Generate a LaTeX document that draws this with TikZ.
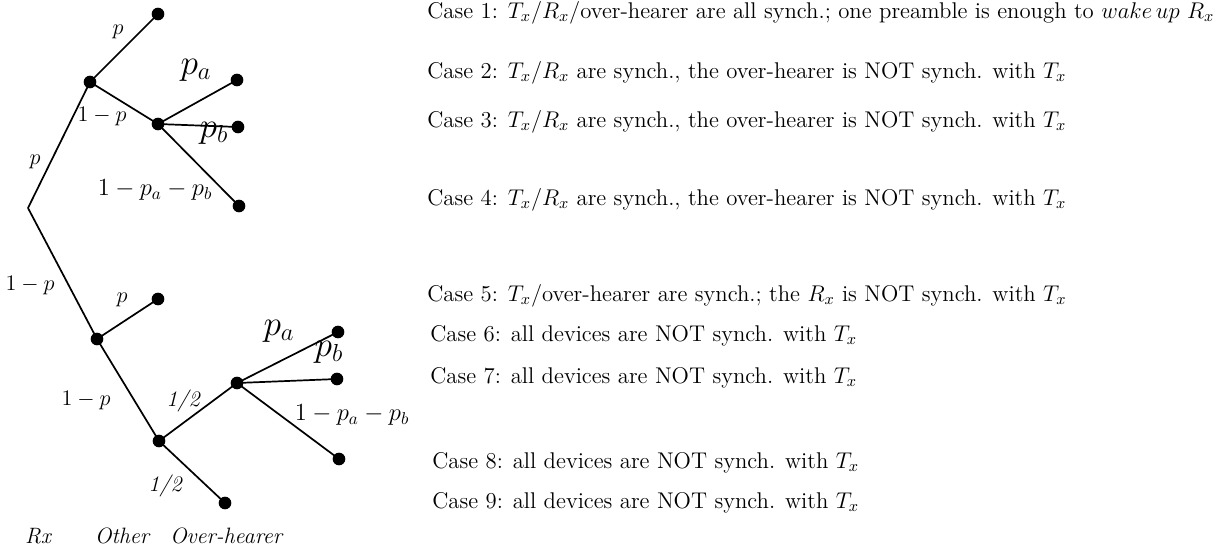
\RequirePackage{fix-cm}
\documentclass[tikz,border=0pt]{standalone}
\begin{document}
\begin{tikzpicture}[x=0.585pt,y=-0.585pt,
  dot/.style={circle,fill=black,inner sep=0pt,minimum size=7.4pt},
  edge/.style={line width=1pt},
  lbl/.style={inner sep=0pt,font=\fontsize{13}{15}\selectfont},
  big/.style={inner sep=0pt,font=\huge},
  mid/.style={inner sep=0pt,font=\Large},
  case/.style={anchor=base west,inner sep=0pt,font=\fontsize{13.3}{16}\selectfont}]
\useasboundingbox (0,0) rectangle (1225,552);
% upper subtree
\coordinate (r) at (28,208);
\node[dot] (a) at (90,82) {};
\node[dot] (a1) at (158,14) {};
\node[dot] (b) at (158,124) {};
\node[dot] (b1) at (237,80) {};
\node[dot] (b2) at (238,127) {};
\node[dot] (b3) at (239,206) {};
% lower subtree
\node[dot] (c) at (97,339) {};
\node[dot] (c1) at (158,299) {};
\node[dot] (d) at (159,441) {};
\node[dot] (e) at (237,383) {};
\node[dot] (e1) at (338,332) {};
\node[dot] (e2) at (337,379) {};
\node[dot] (e3) at (339,459) {};
\node[dot] (d2) at (225,503) {};
\draw[edge] (r) -- (a.center);
\draw[edge] (a.center) -- (a1.center);
\draw[edge] (a.center) -- (b.center);
\draw[edge] (b.center) -- (b1.center);
\draw[edge] (b.center) -- (b2.center);
\draw[edge] (b.center) -- (b3.center);
\draw[edge] (r) -- (c.center);
\draw[edge] (c.center) -- (c1.center);
\draw[edge] (c.center) -- (d.center);
\draw[edge] (d.center) -- (e.center);
\draw[edge] (d.center) -- (d2.center);
\draw[edge] (e.center) -- (e1.center);
\draw[edge] (e.center) -- (e2.center);
\draw[edge] (e.center) -- (e3.center);
% labels
\node[lbl] (l1) at (118,32) {$p$};
\node[lbl] (l2) at (102,116) {$1-p$};
\node[lbl] (l3) at (35,162) {$p$};
\node[big] (l4) at (196,70) {$p_a$};
\node[big] (l5) at (214,133) {$p_b$};
\node[mid] (l6) at (155,190) {$1-p_a-p_b$};
\node[lbl] (l7) at (30,285) {$1-p$};
\node[lbl] (l8) at (122,300) {$p$};
\node[lbl] (l9) at (86,400) {$1-p$};
\node[lbl] (l10) at (183,401) {\itshape 1/2};
\node[big] (l11) at (279,331) {$p_a$};
\node[big] (l12) at (329,352) {$p_b$};
\node[mid] (l13) at (352,415) {$1-p_a-p_b$};
\node[lbl] (l14) at (165,486) {\itshape 1/2};
\node[lbl,anchor=base] (h1) at (38,543) {\itshape Rx};
\node[lbl,anchor=base] (h2) at (122,543) {\itshape Other};
\node[lbl,anchor=base] (h3) at (226,543) {\itshape Over-hearer};
% cases
\node[case] (k1) at (427,18) {Case 1: $T_x/R_x$/over-hearer are all synch.; one preamble is enough to $wake\,up$ $R_x$};
\node[case] (k2) at (427,78) {Case 2: $T_x/R_x$ are synch., the over-hearer is NOT synch. with $T_x$};
\node[case] (k3) at (427,127) {Case 3: $T_x/R_x$ are synch., the over-hearer is NOT synch. with $T_x$};
\node[case] (k4) at (427,205) {Case 4: $T_x/R_x$ are synch., the over-hearer is NOT synch. with $T_x$};
\node[case] (k5) at (427,301) {Case 5: $T_x$/over-hearer are synch.; the $R_x$ is NOT synch. with $T_x$};
\node[case] (k6) at (430,341) {Case 6: all devices are NOT synch. with $T_x$};
\node[case] (k7) at (430,383) {Case 7: all devices are NOT synch. with $T_x$};
\node[case] (k8) at (432,468) {Case 8: all devices are NOT synch. with $T_x$};
\node[case] (k9) at (432,508) {Case 9: all devices are NOT synch. with $T_x$};
\end{tikzpicture}
\end{document}
